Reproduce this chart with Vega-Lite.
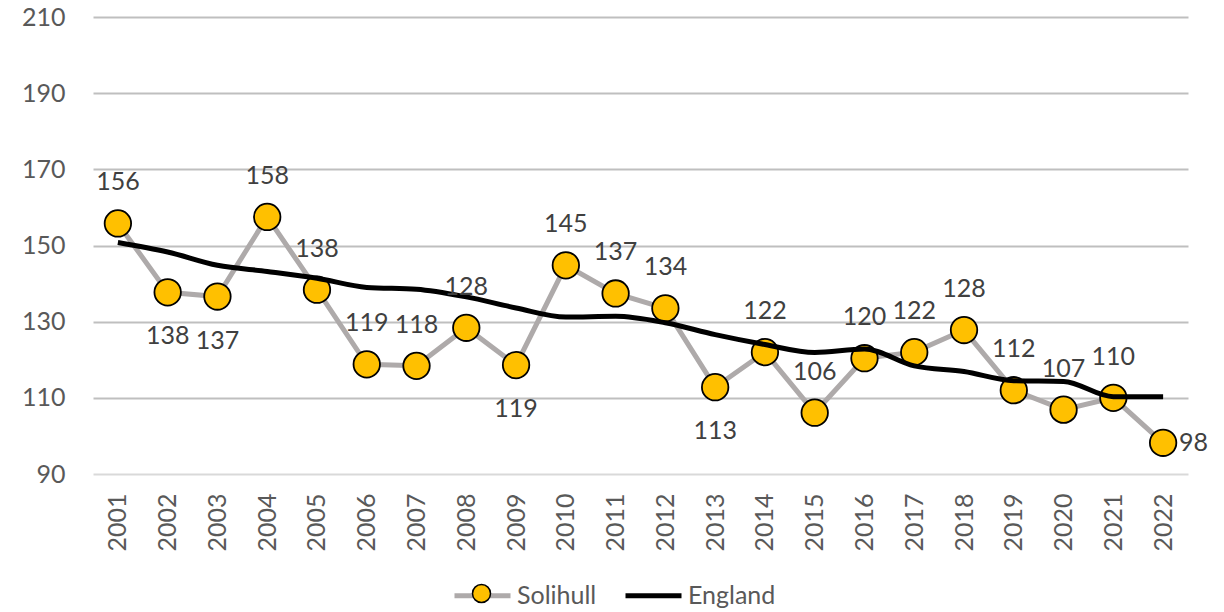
{
  "$schema": "https://vega.github.io/schema/vega-lite/v6.json",
  "width": 1095,
  "height": 457,
  "autosize": {"type": "none"},
  "padding": {"left": 93, "top": 17, "right": 36, "bottom": 138},
  "background": "white",
  "config": {
    "font": "Lato",
    "view": {"stroke": null},
    "axis": {"labelFont": "Lato", "labelFontSize": 25, "labelColor": "#595959"},
    "legend": {"labelFont": "Lato", "labelFontSize": 25, "labelColor": "#595959"}
  },
  "datasets": {
    "rates": [
      {"year": "2001", "series": "Solihull", "value": 155.8},
      {"year": "2002", "series": "Solihull", "value": 137.7},
      {"year": "2003", "series": "Solihull", "value": 136.6},
      {"year": "2004", "series": "Solihull", "value": 157.5},
      {"year": "2005", "series": "Solihull", "value": 138.4},
      {"year": "2006", "series": "Solihull", "value": 118.8},
      {"year": "2007", "series": "Solihull", "value": 118.4},
      {"year": "2008", "series": "Solihull", "value": 128.4},
      {"year": "2009", "series": "Solihull", "value": 118.6},
      {"year": "2010", "series": "Solihull", "value": 144.8},
      {"year": "2011", "series": "Solihull", "value": 137.4},
      {"year": "2012", "series": "Solihull", "value": 133.5},
      {"year": "2013", "series": "Solihull", "value": 112.8},
      {"year": "2014", "series": "Solihull", "value": 122.0},
      {"year": "2015", "series": "Solihull", "value": 106.1},
      {"year": "2016", "series": "Solihull", "value": 120.4},
      {"year": "2017", "series": "Solihull", "value": 122.0},
      {"year": "2018", "series": "Solihull", "value": 127.8},
      {"year": "2019", "series": "Solihull", "value": 112.0},
      {"year": "2020", "series": "Solihull", "value": 106.9},
      {"year": "2021", "series": "Solihull", "value": 110.0},
      {"year": "2022", "series": "Solihull", "value": 98.2},
      {"year": "2001", "series": "England", "value": 150.8},
      {"year": "2002", "series": "England", "value": 148.3},
      {"year": "2003", "series": "England", "value": 144.8},
      {"year": "2004", "series": "England", "value": 143.2},
      {"year": "2005", "series": "England", "value": 141.4},
      {"year": "2006", "series": "England", "value": 139.0},
      {"year": "2007", "series": "England", "value": 138.5},
      {"year": "2008", "series": "England", "value": 136.5},
      {"year": "2009", "series": "England", "value": 133.6},
      {"year": "2010", "series": "England", "value": 131.2},
      {"year": "2011", "series": "England", "value": 131.4},
      {"year": "2012", "series": "England", "value": 129.7},
      {"year": "2013", "series": "England", "value": 126.6},
      {"year": "2014", "series": "England", "value": 124.0},
      {"year": "2015", "series": "England", "value": 121.9},
      {"year": "2016", "series": "England", "value": 122.8},
      {"year": "2017", "series": "England", "value": 118.4},
      {"year": "2018", "series": "England", "value": 116.9},
      {"year": "2019", "series": "England", "value": 114.5},
      {"year": "2020", "series": "England", "value": 114.3},
      {"year": "2021", "series": "England", "value": 110.3},
      {"year": "2022", "series": "England", "value": 110.3}
    ]
  },
  "data": {"name": "rates"},
  "encoding": {
    "x": {
      "field": "year",
      "type": "ordinal",
      "title": null,
      "axis": {
        "labelAngle": -90,
        "labelPadding": 19,
        "ticks": false,
        "domain": false,
        "grid": false
      }
    },
    "y": {
      "field": "value",
      "type": "quantitative",
      "title": null,
      "scale": {"domain": [90, 210], "nice": false, "zero": false},
      "axis": {
        "values": [90, 110, 130, 150, 170, 190, 210],
        "ticks": false,
        "domain": false,
        "labelPadding": 28,
        "gridWidth": 2,
        "gridColor": {"condition": {"test": "datum.value === 90", "value": "#d9d9d9"}, "value": "#bfbfbf"}
      }
    }
  },
  "layer": [
    {
      "transform": [{"filter": "datum.series === 'Solihull'"}],
      "mark": {"type": "line", "strokeWidth": 5, "interpolate": "linear"},
      "encoding": {
        "stroke": {
          "field": "series",
          "type": "nominal",
          "scale": {"domain": ["Solihull", "England"], "range": ["#AEAAAA", "#000000"]},
          "legend": {
            "title": null,
            "orient": "none",
            "direction": "horizontal",
            "legendX": 359,
            "legendY": 548,
            "symbolType": "stroke",
            "symbolSize": 3136,
            "symbolStrokeWidth": 5,
            "labelOffset": 4,
            "columnPadding": 18,
            "padding": 0
          }
        }
      }
    },
    {
      "transform": [{"filter": "datum.series === 'Solihull'"}],
      "mark": {"type": "point", "filled": true, "size": 700, "stroke": "#000000", "strokeWidth": 1.8, "opacity": 1},
      "encoding": {
        "fill": {
          "datum": "Solihull",
          "type": "nominal",
          "scale": {"domain": ["Solihull"], "range": ["#FFC000"]},
          "legend": {
            "title": null,
            "orient": "none",
            "legendX": 376,
            "legendY": 564,
            "symbolType": "circle",
            "symbolSize": 324,
            "symbolStrokeColor": "#000000",
            "symbolStrokeWidth": 1.5,
            "symbolOpacity": 1,
            "labelExpr": "''",
            "labelOffset": 0,
            "padding": 0
          }
        }
      }
    },
    {
      "transform": [{"filter": "datum.series === 'England'"}],
      "mark": {"type": "line", "strokeWidth": 5, "interpolate": "monotone"},
      "encoding": {
        "stroke": {"field": "series", "type": "nominal"}
      }
    },
    {
      "transform": [{"filter": "datum.series === 'Solihull' && indexof(['2002','2003','2009','2013','2022'], datum.year) < 0"}],
      "mark": {"type": "text", "fontSize": 25, "color": "#404040", "dy": -41, "baseline": "middle", "align": "center"},
      "encoding": {"text": {"field": "value", "type": "quantitative", "format": ".0f"}}
    },
    {
      "transform": [{"filter": "datum.series === 'Solihull' && indexof(['2002','2003','2009','2013'], datum.year) >= 0"}],
      "mark": {"type": "text", "fontSize": 25, "color": "#404040", "dy": 44, "baseline": "middle", "align": "center"},
      "encoding": {"text": {"field": "value", "type": "quantitative", "format": ".0f"}}
    },
    {
      "transform": [{"filter": "datum.series === 'Solihull' && datum.year === '2022'"}],
      "mark": {"type": "text", "fontSize": 25, "color": "#404040", "dx": 16, "baseline": "middle", "align": "left"},
      "encoding": {"text": {"field": "value", "type": "quantitative", "format": ".0f"}}
    }
  ],
  "resolve": {"scale": {"stroke": "shared"}}
}
